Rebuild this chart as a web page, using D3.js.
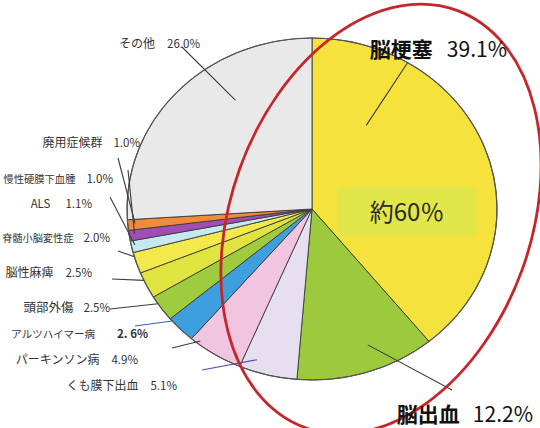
<!DOCTYPE html>
<html>
<head>
<meta charset="utf-8">
<script src="https://cdn.jsdelivr.net/npm/d3@7"></script>
<style>
  body { margin: 0; background: #fff; }
  svg { display: block; }
</style>
</head>
<body>
<div id="chart"></div>
<script>
// Data (clockwise from 12 o'clock)
const categories = ["脳梗塞", "脳出血", "くも膜下出血", "パーキンソン病", "アルツハイマー病", "頭部外傷",
  "脳性麻痺", "脊髄小脳変性症", "ALS", "慢性硬膜下血腫", "廃用症候群", "その他"];
const shares = [39.1, 12.2, 5.1, 4.9, 2.6, 2.5, 2.5, 2.0, 1.1, 1.0, 1.0, 26.0];
const valueLabels = ["39.1%", "12.2%", "5.1%", "4.9%", "2. 6%", "2.5%", "2.5%", "2.0%", "1.1%", "1.0%", "1.0%", "26.0%"];
const highlightText = "約60％";

const colors = ["#f5e23c", "#9dca3c", "#e5dff0", "#f1c5e0", "#3d9fdd", "#9fcb3e",
  "#dfe43e", "#f3e84c", "#c6e9ef", "#a24db3", "#f18b3b", "#e8e9e8"];

const width = 540, height = 428;
const cx = 312, cy = 209, R = 185, ry = 171;

// label layout: right end x, baseline y, gap between name and value, font sizes,
// outer leader end (lx, ly), inner end as fraction t of slice angle and r of radius
const labelLayout = [
  { x: 507, y: 57, gap: 14, size: 21, nameSize: 21, big: true, lx: 408, ly: 62, t: 0.22, r: 0.57 },
  { x: 533, y: 422, gap: 13, size: 21, nameSize: 21, big: true, lx: 452, ly: 390, t: 0.42, r: 0.85 },
  { x: 177, y: 390, gap: 12, size: 11.5, nameSize: 12, lx: 202, ly: 370, t: 0.76, r: 0.93, stroke: "#5b4fa3" },
  { x: 138, y: 364, gap: 12, size: 11.5, nameSize: 12, lx: 172, ly: 348, t: 0.85, r: 0.98 },
  { x: 148, y: 338, gap: 22, size: 11.5, nameSize: 10.5, lx: 135, ly: 326, t: 0.9, r: 1.0, stroke: "#2f62c0" },
  { x: 110, y: 312, gap: 10, size: 11.5, nameSize: 12.5, lx: 110, ly: 309, t: 0.7, r: 1.0 },
  { x: 92, y: 277, gap: 12, size: 11.5, nameSize: 12, lx: 112, ly: 279, t: 0.7, r: 1.0 },
  { x: 110, y: 242, gap: 10, size: 11.5, nameSize: 10.2, lx: 118, ly: 251, t: 0.8, r: 1.0 },
  { x: 92, y: 208, gap: 15, size: 11.5, nameSize: 11.5, lx: 110, ly: 197, t: 0.6, r: 0.98 },
  { x: 113, y: 183, gap: 11, size: 11.5, nameSize: 10.3, lx: 128, ly: 170, t: 0.6, r: 0.97 },
  { x: 140, y: 147, gap: 11, size: 11.5, nameSize: 12, lx: 118, ly: 158, t: 0.6, r: 0.96 },
  { x: 200, y: 48, gap: 12, size: 11.5, nameSize: 12, lx: 182, ly: 47, t: 0.647, r: 0.76 }
];

const svg = d3.select("#chart").append("svg")
  .attr("width", width)
  .attr("height", height)
  .attr("viewBox", `0 0 ${width} ${height}`);

const pie = d3.pie().sort(null).value(d => d);
const arcs = pie(shares);
const arc = d3.arc().innerRadius(0).outerRadius(R);

// pie (slightly flattened like the scan)
const pieG = svg.append("g")
  .attr("transform", `translate(${cx},${cy}) scale(1,${ry / R})`);

pieG.selectAll("path")
  .data(arcs)
  .enter()
  .append("path")
  .attr("d", arc)
  .attr("fill", (d, i) => colors[i])
  .attr("stroke", "#3a3a3a")
  .attr("stroke-width", 0.9)
  .attr("vector-effect", "non-scaling-stroke");

pieG.append("circle")
  .attr("r", R)
  .attr("fill", "none")
  .attr("stroke", "#555")
  .attr("stroke-width", 1.2)
  .attr("vector-effect", "non-scaling-stroke");

// 約60% box
const hl = svg.append("text")
  .attr("x", 407)
  .attr("y", 221)
  .attr("text-anchor", "middle")
  .style("font-family", "'Noto Sans CJK JP', 'Noto Sans', sans-serif")
  .style("font-size", "24px")
  .style("fill", "#2a2a2a")
  .text(highlightText);
const bb = hl.node().getBBox();
svg.insert("rect", "text")
  .attr("x", bb.x - 32)
  .attr("y", bb.y - 6)
  .attr("width", bb.width + 64)
  .attr("height", bb.height + 14)
  .attr("rx", 4)
  .attr("fill", "#e1e74a");

// leader lines
const innerPoint = (d, L) => {
  const a = d.startAngle + L.t * (d.endAngle - d.startAngle);
  return [cx + L.r * R * Math.sin(a), cy - L.r * ry * Math.cos(a)];
};

svg.append("g")
  .selectAll("line")
  .data(arcs)
  .enter()
  .append("line")
  .attr("x1", (d, i) => labelLayout[i].lx)
  .attr("y1", (d, i) => labelLayout[i].ly)
  .attr("x2", (d, i) => innerPoint(d, labelLayout[i])[0])
  .attr("y2", (d, i) => innerPoint(d, labelLayout[i])[1])
  .attr("stroke", (d, i) => labelLayout[i].stroke || "#3c3c3c")
  .attr("stroke-width", 1.1);

// red highlight ellipse
svg.append("ellipse")
  .attr("cx", 381)
  .attr("cy", 219)
  .attr("rx", 150)
  .attr("ry", 222)
  .attr("transform", "rotate(20 381 219)")
  .attr("fill", "none")
  .attr("stroke", "#c4262b")
  .attr("stroke-width", 2.8);

// labels
const labels = svg.append("g")
  .selectAll("text")
  .data(categories)
  .enter()
  .append("text")
  .attr("x", (d, i) => labelLayout[i].x)
  .attr("y", (d, i) => labelLayout[i].y)
  .attr("text-anchor", "end")
  .style("font-family", "'Noto Sans CJK JP', 'Noto Sans', sans-serif")
  .style("fill", (d, i) => labelLayout[i].big ? "#111" : "#333");

labels.append("tspan")
  .style("font-size", (d, i) => labelLayout[i].nameSize + "px")
  .style("font-weight", (d, i) => labelLayout[i].big ? "bold" : "normal")
  .text(d => d);

labels.append("tspan")
  .attr("dx", (d, i) => labelLayout[i].gap)
  .style("font-size", (d, i) => labelLayout[i].size + "px")
  .style("font-weight", (d, i) => i === 4 ? "bold" : "normal")
  .text((d, i) => valueLabels[i]);
</script>
</body>
</html>
